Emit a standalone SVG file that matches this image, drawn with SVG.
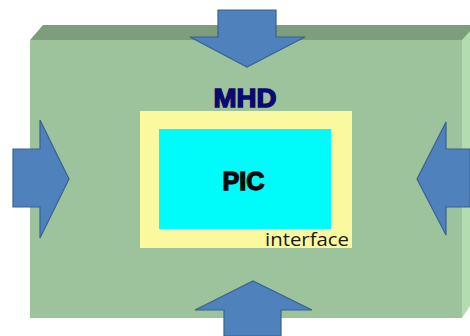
<svg xmlns="http://www.w3.org/2000/svg" width="470" height="336" viewBox="0 0 470 336">
<style>
.arrow{fill:#4f81bd;stroke:#3a6191;stroke-width:1.2;stroke-linejoin:miter}
.t{font-family:"Liberation Sans",Arial,sans-serif;font-weight:bold}
</style>
<rect width="470" height="336" fill="#ffffff"/>
<g id="mhd-block">
<polygon points="30,40 43,25 470,25 470,40 462,40" fill="#7d9d7c"/>
<polygon points="462,40 470,31 470,306 462,318" fill="#b3dcb1"/>
<rect x="30" y="40" width="432" height="278" fill="#9dc39c"/>
</g>
<g id="mhd-label"><text class="t" x="213.5" y="106.5" font-size="25" fill="#0b0b6e" stroke="#0b0b6e" stroke-width="1.3" textLength="63" lengthAdjust="spacingAndGlyphs">MHD</text></g>
<g id="interface">
<rect x="140" y="111" width="212" height="137" fill="#fbf99f"/>
<text x="265" y="246" font-family="'Open Sans','Liberation Sans',sans-serif" font-size="18" fill="#1a1a1a" textLength="84" lengthAdjust="spacingAndGlyphs">interface</text>
</g>
<g id="pic">
<rect x="159" y="129" width="172" height="100" fill="#00fbfb"/>
<text class="t" x="222.5" y="189.5" font-size="25" fill="#0a0a0a" stroke="#0a0a0a" stroke-width="1.3" textLength="42" lengthAdjust="spacingAndGlyphs">PIC</text>
</g>
<g id="connectors">
<polygon class="arrow" points="218,10 276,10 276,37 305,37 247,67 190,37 218,37"/>
<polygon class="arrow" points="224,336 224,310 195,310 253,281 312,310 281,310 281,336"/>
<polygon class="arrow" points="13,149 40,149 40,120 69,179 40,238 40,207 13,207"/>
<polygon class="arrow" points="470,149 446,149 446,122 417,179 446,235 446,207 470,207"/>
</g>
</svg>
